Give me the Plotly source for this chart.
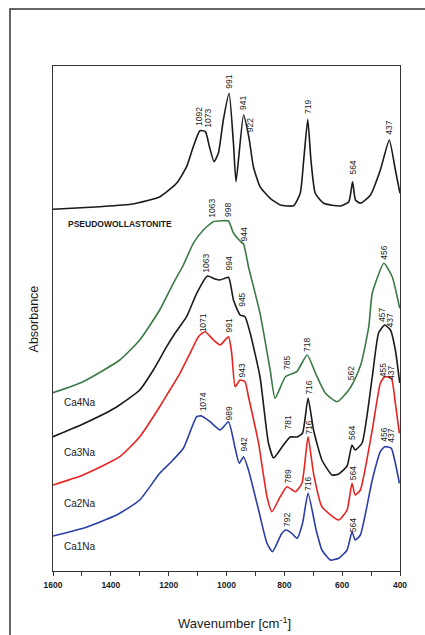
import plotly.graph_objects as go

# ---------------- data (wavenumber cm-1, absorbance a.u.) ----------------
pw_wn = [1600, 1438, 1324, 1230, 1172, 1138, 1115, 1092, 1073, 1059, 1043, 1028, 1011, 991,
         976, 967, 941, 922, 907, 884, 849, 814, 768, 745, 733, 719, 708, 693, 664, 606,
         577, 564, 554, 537, 502, 468, 437, 416, 400]
pw_ab = [3.617, 3.643, 3.67, 3.743, 3.88, 4.043, 4.243, 4.403, 4.393, 4.243, 4.093, 4.18, 4.51, 4.777,
         4.277, 3.893, 4.56, 4.327, 4.043, 3.843, 3.727, 3.66, 3.653, 3.777, 4.11, 4.517, 4.11, 3.777, 3.677, 3.65,
         3.693, 3.893, 3.71, 3.677, 3.76, 4.01, 4.31, 4.01, 3.777]

ca4_wn = [1600, 1496, 1369, 1300, 1231, 1184, 1149, 1115, 1080, 1046, 1015,
          993, 976, 953, 941, 924, 884, 849, 832, 796, 757, 721, 692, 658, 617, 577, 560, 534,
          508, 496, 456, 427, 401]
ca4_ab = [1.783, 1.893, 2.11, 2.31, 2.61, 2.877, 3.06, 3.277, 3.41, 3.493, 3.503,
          3.50, 3.38, 3.30, 3.27, 3.043, 2.577, 2.01, 1.727, 1.943, 1.993, 2.16, 1.977, 1.777, 1.693, 1.81, 1.893, 2.077,
          2.443, 2.777, 3.077, 2.943, 2.627]

ca3_wn = [1600, 1496, 1380, 1300, 1253, 1207, 1178, 1138, 1103, 1066, 1040, 1022, 993, 976, 953, 936,
          918, 884, 855, 837, 808, 780, 756, 737, 718, 699, 670, 635, 612, 583, 566, 555, 531,
          496, 474, 453, 433, 416, 401]
ca3_ab = [1.343, 1.47, 1.64, 1.81, 2.01, 2.243, 2.377, 2.543, 2.777, 2.95, 2.92, 2.91, 2.937, 2.71, 2.56, 2.543,
          2.377, 1.94, 1.28, 1.13, 1.24, 1.34, 1.34, 1.38, 1.73, 1.41, 1.11, 0.96, 0.97, 1.05, 1.26, 1.21, 1.28,
          1.94, 2.38, 2.46, 2.41, 2.21, 1.88]

ca2_wn = [1600, 1496, 1369, 1300, 1231, 1196, 1161, 1126, 1097, 1074, 1045, 1022, 993, 982,
          970, 953, 936, 924, 889, 860, 843, 814, 791, 762, 739, 718, 699, 670, 612, 583,
          566, 555, 537, 496, 468, 453, 430, 416, 402]
ca2_ab = [0.86, 0.96, 1.143, 1.343, 1.643, 1.81, 1.977, 2.177, 2.343, 2.393, 2.31, 2.26, 2.343, 2.177,
          1.843, 1.91, 1.893, 1.743, 1.277, 0.743, 0.593, 0.743, 0.843, 0.793, 0.877, 1.343, 0.977, 0.643, 0.51, 0.61,
          0.877, 0.76, 0.81, 1.41, 1.877, 1.943, 1.927, 1.677, 1.377]

ca1_wn = [1600, 1496, 1380, 1300, 1231, 1196, 1149, 1103, 1086, 1057, 1022, 993, 970, 956,
          941, 924, 889, 860, 841, 810, 795, 774, 756, 737, 718, 690, 670, 641, 612, 583, 566,
          555, 537, 496, 468, 453, 430, 416, 402]
ca1_ab = [0.35, 0.427, 0.56, 0.71, 0.977, 1.077, 1.227, 1.543, 1.55, 1.493, 1.41, 1.493, 1.227, 1.077,
          1.143, 1.01, 0.61, 0.277, 0.193, 0.37, 0.41, 0.377, 0.327, 0.477, 0.777, 0.41, 0.21, 0.11, 0.127, 0.21, 0.393,
          0.31, 0.36, 0.91, 1.193, 1.243, 1.227, 1.077, 0.877]

# peak labels: text, wavenumber position, absorbance position
pw_lbl = ["1092", "1073", "991", "941", "922", "719", "564", "437"]
pw_lx = [1095, 1065, 992, 943, 918, 718, 564, 439]
pw_ly = [4.54, 4.53, 4.89, 4.68, 4.46, 4.64, 4.03, 4.43]

ca4_lbl = ["1063", "998", "944", "785", "718", "562", "456"]
ca4_lx = [1051, 995, 941, 791, 722, 569, 456]
ca4_ly = [3.63, 3.61, 3.36, 2.08, 2.26, 1.98, 3.18]

ca3_lbl = ["1063", "994", "945", "781", "716", "564", "457", "437"]
ca3_lx = [1072, 990, 947, 789, 716, 566, 462, 433]
ca3_ly = [3.08, 3.08, 2.71, 1.48, 1.83, 1.38, 2.56, 2.51]

ca2_lbl = ["1071", "991", "943", "789", "716", "564", "455", "437"]
ca2_lx = [1080, 990, 945, 789, 716, 562, 458, 431]
ca2_ly = [2.48, 2.46, 2.01, 0.94, 1.43, 0.98, 2.01, 1.98]

ca1_lbl = ["1074", "989", "942", "792", "716", "564", "456", "437"]
ca1_lx = [1080, 990, 941, 791, 718, 562, 456, 432]
ca1_ly = [1.69, 1.58, 1.26, 0.51, 0.87, 0.46, 1.36, 1.35]

series_names = ["PSEUDOWOLLASTONITE", "Ca4Na", "Ca3Na", "Ca2Na", "Ca1Na"]
name_y = [3.47, 1.69, 1.19, 0.675, 0.25]

x_ticks = [1600, 1400, 1200, 1000, 800, 600, 400]

# ---------------- figure ----------------
FONT = "Liberation Sans, Arial, sans-serif"
colors = ["#1a1a1a", "#3b7a47", "#1a1a1a", "#e8231f", "#2b3da6"]
all_x = [pw_wn, ca4_wn, ca3_wn, ca2_wn, ca1_wn]
all_y = [pw_ab, ca4_ab, ca3_ab, ca2_ab, ca1_ab]
all_lbl = [(pw_lbl, pw_lx, pw_ly), (ca4_lbl, ca4_lx, ca4_ly), (ca3_lbl, ca3_lx, ca3_ly),
           (ca2_lbl, ca2_lx, ca2_ly), (ca1_lbl, ca1_lx, ca1_ly)]

fig = go.Figure()
for xs, ys, c, n in zip(all_x, all_y, colors, series_names):
    fig.add_trace(go.Scatter(x=xs, y=ys, mode="lines", name=n,
                             line=dict(color=c, width=1.6, shape="spline", smoothing=0.5),
                             showlegend=False, hoverinfo="skip"))

annotations = []
for (txts, lx, ly) in all_lbl:
    for t, x, y in zip(txts, lx, ly):
        annotations.append(dict(x=x, y=y, text=t, showarrow=False, textangle=-90,
                                xanchor="center", yanchor="middle",
                                font=dict(family=FONT, size=8.5, color="#1a1a1a")))

annotations.append(dict(x=1554, y=name_y[0], text=series_names[0], showarrow=False,
                        xanchor="left", yanchor="middle",
                        font=dict(family=FONT, size=8.5, color="#1a1a1a", weight="bold")))
for n, y in zip(series_names[1:], name_y[1:]):
    annotations.append(dict(x=1568, y=y, text=n, showarrow=False, xanchor="left", yanchor="middle",
                            font=dict(family=FONT, size=10, color="#1a1a1a")))

# axis titles
annotations.append(dict(xref="paper", yref="paper", x=-0.055, y=0.5, text="Absorbance",
                        showarrow=False, textangle=-90, xanchor="center", yanchor="middle",
                        font=dict(family=FONT, size=12.5, color="#1a1a1a")))
annotations.append(dict(xref="paper", yref="paper", x=0.524, y=-0.103,
                        text="Wavenumber [cm<sup>-1</sup>]",
                        showarrow=False, xanchor="center", yanchor="middle",
                        font=dict(family=FONT, size=13, color="#1a1a1a")))

fig.update_layout(
    width=425, height=635,
    margin=dict(l=53, r=25, t=66, b=64),
    paper_bgcolor="white", plot_bgcolor="white",
    annotations=annotations,
    shapes=[dict(type="rect", xref="paper", yref="paper", x0=-0.124, x1=1.3, y0=-0.3, y1=1.113,
                 line=dict(color="#333333", width=1.5), fillcolor="rgba(0,0,0,0)", layer="below")],
    xaxis=dict(range=[1600, 400], tickvals=x_ticks, ticktext=[str(v) for v in x_ticks],
               ticks="outside", ticklen=4, tickwidth=1.2, tickcolor="#333333",
               minor=dict(dtick=100, ticks="outside", ticklen=4, tickwidth=1.2, tickcolor="#333333"),
               showline=True, linecolor="#333333", linewidth=1.4, mirror=True,
               showgrid=False, zeroline=False, ticklabelstandoff=2,
               tickfont=dict(family=FONT, size=8.5, color="#1a1a1a", weight="bold")),
    yaxis=dict(range=[0, 5.05], showticklabels=False, ticks="", showgrid=False, zeroline=False,
               showline=True, linecolor="#333333", linewidth=1.4, mirror=True),
)

fig.write_html("out.html")
